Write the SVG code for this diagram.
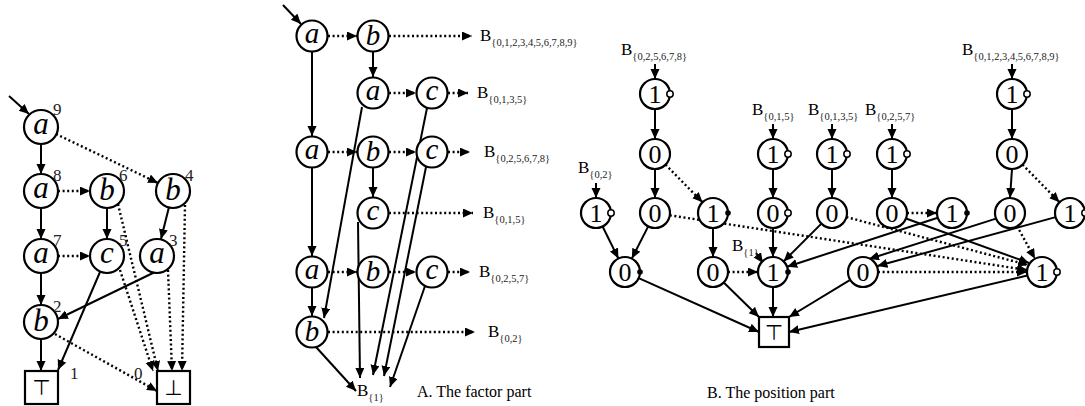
<svg xmlns="http://www.w3.org/2000/svg" width="1085" height="406" viewBox="0 0 1085 406">
<defs>
<marker id="ah" markerUnits="userSpaceOnUse" markerWidth="11" markerHeight="10" refX="10" refY="4.5" orient="auto"><path d="M0,0 L10,4.5 L0,9 z" fill="#000"/></marker>
<style>
.n{fill:#fff;stroke:#000;stroke-width:2.2}
.bx{fill:#fff;stroke:#000;stroke-width:2.2}
.s{stroke:#000;stroke-width:2;fill:none;marker-end:url(#ah)}
.d{stroke:#000;stroke-width:2.4;stroke-dasharray:2 2.6;fill:none;marker-end:url(#ah)}
.lt{font-family:"Liberation Serif",serif;font-style:italic;font-size:31px;text-anchor:middle;fill:#000}
.lm{font-family:"Liberation Serif",serif;font-style:italic;font-size:29px;text-anchor:middle;fill:#000}
.dg{font-family:"Liberation Serif",serif;font-size:26px;text-anchor:middle;fill:#000}
.sp{font-family:"Liberation Serif",serif;font-size:17px;fill:#222}
.lb{font-family:"Liberation Serif",serif;font-size:17px;fill:#000}
.sb{font-size:10.5px;fill:#222}
.cap{font-family:"Liberation Serif",serif;font-size:16px;fill:#000}
.sym{font-family:"DejaVu Sans",sans-serif;font-size:21px;text-anchor:middle;fill:#000}
.oc{fill:#fff;stroke:#000;stroke-width:1.5}
.fc{fill:#000}
</style>
</defs>

<!-- ===== Connectors ===== -->
<g id="connectors">
<!-- left diagram -->
<line class="s" x1="9" y1="96" x2="29" y2="114"/>
<line class="s" x1="41" y1="144" x2="41" y2="174"/>
<line class="d" x1="56" y1="134" x2="158" y2="183"/>
<line class="d" x1="58" y1="191" x2="90" y2="191"/>
<line class="s" x1="41" y1="208" x2="41" y2="239"/>
<line class="s" x1="107" y1="208" x2="107" y2="239"/>
<line class="d" x1="118" y1="204" x2="158" y2="371"/>
<line class="d" x1="120" y1="270" x2="153" y2="371"/>
<line class="s" x1="169" y1="207" x2="161" y2="239"/>
<line class="d" x1="185" y1="205" x2="182" y2="371"/>
<line class="d" x1="168" y1="270" x2="172" y2="371"/>
<line class="d" x1="58" y1="256" x2="90" y2="256"/>
<line class="s" x1="41" y1="273" x2="41" y2="305"/>
<line class="s" x1="100" y1="272" x2="58" y2="370"/>
<line class="s" x1="155" y1="272" x2="58" y2="319"/>
<line class="s" x1="41" y1="339" x2="41" y2="371"/>
<line class="d" x1="55" y1="334" x2="157" y2="391"/>

<!-- middle diagram -->
<line class="s" x1="283" y1="5" x2="301" y2="24"/>
<line class="d" x1="328" y1="36" x2="357" y2="36"/>
<line class="d" x1="389" y1="36" x2="472" y2="36"/>
<line class="s" x1="373" y1="52" x2="373" y2="77"/>
<line class="d" x1="389" y1="93" x2="416" y2="93"/>
<line class="d" x1="448" y1="93" x2="468" y2="93"/>
<line class="s" x1="312" y1="52" x2="312" y2="136"/>
<line class="d" x1="328" y1="152" x2="357" y2="152"/>
<line class="d" x1="389" y1="152" x2="416" y2="152"/>
<line class="d" x1="448" y1="152" x2="470" y2="152"/>
<line class="s" x1="373" y1="168" x2="373" y2="197"/>
<line class="d" x1="389" y1="213" x2="473" y2="213"/>
<line class="s" x1="312" y1="168" x2="312" y2="256"/>
<line class="d" x1="328" y1="272" x2="357" y2="272"/>
<line class="d" x1="389" y1="272" x2="416" y2="272"/>
<line class="d" x1="448" y1="272" x2="470" y2="272"/>
<line class="s" x1="312" y1="288" x2="312" y2="316"/>
<line class="d" x1="328" y1="332" x2="475" y2="332"/>
<line class="s" x1="362" y1="107" x2="324" y2="318"/>
<line class="s" x1="358" y1="222" x2="360" y2="378"/>
<line class="s" x1="427" y1="108" x2="373" y2="375"/>
<line class="s" x1="426" y1="167" x2="384" y2="376"/>
<line class="s" x1="425" y1="286" x2="390" y2="387"/>
<line class="s" x1="316" y1="347" x2="356" y2="391"/>

<!-- right diagram -->
<line class="s" x1="655" y1="64" x2="655" y2="79"/>
<line class="s" x1="773" y1="124" x2="773" y2="139"/>
<line class="s" x1="832" y1="124" x2="832" y2="139"/>
<line class="s" x1="892" y1="124" x2="892" y2="139"/>
<line class="s" x1="1012" y1="64" x2="1012" y2="79"/>
<line class="s" x1="596" y1="183" x2="596" y2="198"/>
<line class="s" x1="756" y1="253" x2="763" y2="263"/>

<line class="s" x1="655" y1="109" x2="655" y2="139"/>
<line class="s" x1="655" y1="169" x2="655" y2="198"/>
<line class="d" x1="665.5" y1="164.6" x2="702.5" y2="202.3"/>
<line class="s" x1="773" y1="169" x2="773" y2="198"/>
<line class="s" x1="832" y1="169" x2="832" y2="198"/>
<line class="s" x1="892" y1="169" x2="892" y2="198"/>
<line class="s" x1="1012" y1="109" x2="1012" y2="139"/>
<line class="s" x1="1012" y1="169" x2="1010" y2="198"/>
<line class="d" x1="1022.5" y1="164.6" x2="1059.5" y2="202.3"/>
<line class="d" x1="907" y1="213" x2="937" y2="213"/>

<line class="s" x1="602.6" y1="226.5" x2="618.4" y2="258.5"/>
<line class="s" x1="648.2" y1="226.4" x2="631.8" y2="258.6"/>
<line class="d" x1="669.8" y1="215.3" x2="1027" y2="270"/>
<line class="d" x1="846.4" y1="217.1" x2="1028" y2="265"/>
<line class="s" x1="906" y1="218.5" x2="1029" y2="263"/>
<line class="s" x1="713" y1="228" x2="713" y2="257"/>
<line class="s" x1="773" y1="228" x2="773" y2="257"/>
<line class="s" x1="821.4" y1="223.6" x2="783.6" y2="261.4"/>
<line class="s" x1="937.8" y1="217.7" x2="787.2" y2="266.7"/>
<line class="s" x1="996" y1="218.6" x2="869" y2="259"/>
<line class="s" x1="1055.6" y1="217.1" x2="877.4" y2="266"/>
<line class="d" x1="1017" y1="226" x2="1035" y2="258.8"/>
<line class="d" x1="878" y1="272" x2="1027" y2="272"/>
<line class="d" x1="728" y1="272" x2="758" y2="272"/>

<line class="s" x1="638.7" y1="278.1" x2="759" y2="332"/>
<line class="s" x1="723.7" y1="282.5" x2="759" y2="317"/>
<line class="s" x1="773" y1="287" x2="773" y2="317"/>
<line class="s" x1="850.2" y1="279.8" x2="789" y2="317"/>
<line class="s" x1="1027.4" y1="275.5" x2="789" y2="332"/>
</g>

<!-- ===== Left diagram nodes ===== -->
<g id="L-a9"><circle class="n" cx="41" cy="127" r="17"/><text class="lt" x="41" y="134">a</text><text class="sp" x="53" y="115">9</text></g>
<g id="L-a8"><circle class="n" cx="41" cy="191" r="17"/><text class="lt" x="41" y="198">a</text><text class="sp" x="53" y="181">8</text></g>
<g id="L-b6"><circle class="n" cx="107" cy="191" r="17"/><text class="lt" x="107" y="200">b</text><text class="sp" x="119" y="181">6</text></g>
<g id="L-b4"><circle class="n" cx="173" cy="191" r="17"/><text class="lt" x="173" y="200">b</text><text class="sp" x="185" y="181">4</text></g>
<g id="L-a7"><circle class="n" cx="41" cy="256" r="17"/><text class="lt" x="41" y="263">a</text><text class="sp" x="53" y="246">7</text></g>
<g id="L-c5"><circle class="n" cx="107" cy="256" r="17"/><text class="lt" x="107" y="263">c</text><text class="sp" x="119" y="246">5</text></g>
<g id="L-a3"><circle class="n" cx="157" cy="256" r="17"/><text class="lt" x="157" y="263">a</text><text class="sp" x="169" y="246">3</text></g>
<g id="L-b2"><circle class="n" cx="41" cy="322" r="17"/><text class="lt" x="41" y="331">b</text><text class="sp" x="53" y="312">2</text></g>
<g id="L-top"><rect class="bx" x="25" y="371" width="33" height="33"/><text class="sym" x="41.5" y="395">⊤</text><text class="sp" x="70" y="379">1</text></g>
<g id="L-bot"><rect class="bx" x="157" y="371" width="33" height="33"/><text class="sym" x="173.5" y="395">⊥</text><text class="sp" x="134" y="379">0</text></g>

<!-- ===== Middle diagram nodes ===== -->
<g id="M-a1"><circle class="n" cx="312" cy="36" r="15.5"/><text class="lm" x="312" y="43">a</text></g>
<g id="M-b1"><circle class="n" cx="373" cy="36" r="15.5"/><text class="lm" x="373" y="45">b</text></g>
<g id="M-a2"><circle class="n" cx="373" cy="93" r="15.5"/><text class="lm" x="373" y="100">a</text></g>
<g id="M-c2"><circle class="n" cx="432" cy="93" r="15.5"/><text class="lm" x="432" y="100">c</text></g>
<g id="M-a3"><circle class="n" cx="312" cy="152" r="15.5"/><text class="lm" x="312" y="159">a</text></g>
<g id="M-b3"><circle class="n" cx="373" cy="152" r="15.5"/><text class="lm" x="373" y="161">b</text></g>
<g id="M-c3"><circle class="n" cx="432" cy="152" r="15.5"/><text class="lm" x="432" y="159">c</text></g>
<g id="M-c4"><circle class="n" cx="373" cy="213" r="15.5"/><text class="lm" x="373" y="220">c</text></g>
<g id="M-a4"><circle class="n" cx="312" cy="272" r="15.5"/><text class="lm" x="312" y="279">a</text></g>
<g id="M-b4"><circle class="n" cx="373" cy="272" r="15.5"/><text class="lm" x="373" y="281">b</text></g>
<g id="M-c5"><circle class="n" cx="432" cy="272" r="15.5"/><text class="lm" x="432" y="279">c</text></g>
<g id="M-b5"><circle class="n" cx="312" cy="332" r="15.5"/><text class="lm" x="312" y="341">b</text></g>
<g id="M-labels">
<text class="lb" x="480" y="41">B<tspan class="sb" dy="5">{0,1,2,3,4,5,6,7,8,9}</tspan></text>
<text class="lb" x="477" y="98">B<tspan class="sb" dy="5">{0,1,3,5}</tspan></text>
<text class="lb" x="484" y="157">B<tspan class="sb" dy="5">{0,2,5,6,7,8}</tspan></text>
<text class="lb" x="483" y="218">B<tspan class="sb" dy="5">{0,1,5}</tspan></text>
<text class="lb" x="479" y="277">B<tspan class="sb" dy="5">{0,2,5,7}</tspan></text>
<text class="lb" x="488" y="337">B<tspan class="sb" dy="5">{0,2}</tspan></text>
<text class="lb" x="357" y="396">B<tspan class="sb" dy="5">{1}</tspan></text>
<text class="cap" x="417" y="397">A. The factor part</text>
</g>

<!-- ===== Right diagram nodes ===== -->
<g id="R-r1a"><circle class="n" cx="655" cy="94" r="15"/><text class="dg" x="655" y="103">1</text><circle class="oc" cx="670" cy="94" r="3.2"/></g>
<g id="R-r1b"><circle class="n" cx="1012" cy="94" r="15"/><text class="dg" x="1012" y="103">1</text><circle class="oc" cx="1027" cy="94" r="3.2"/></g>
<g id="R-r2a"><circle class="n" cx="655" cy="154" r="15"/><text class="dg" x="655" y="163">0</text></g>
<g id="R-r2b"><circle class="n" cx="773" cy="154" r="15"/><text class="dg" x="773" y="163">1</text><circle class="oc" cx="788" cy="154" r="3.2"/></g>
<g id="R-r2c"><circle class="n" cx="832" cy="154" r="15"/><text class="dg" x="832" y="163">1</text><circle class="oc" cx="847" cy="154" r="3.2"/></g>
<g id="R-r2d"><circle class="n" cx="892" cy="154" r="15"/><text class="dg" x="892" y="163">1</text><circle class="oc" cx="907" cy="154" r="3.2"/></g>
<g id="R-r2e"><circle class="n" cx="1012" cy="154" r="15"/><text class="dg" x="1012" y="163">0</text></g>
<g id="R-r3a"><circle class="n" cx="596" cy="213" r="15"/><text class="dg" x="596" y="222">1</text><circle class="oc" cx="611" cy="213" r="3.2"/></g>
<g id="R-r3b"><circle class="n" cx="655" cy="213" r="15"/><text class="dg" x="655" y="222">0</text></g>
<g id="R-r3c"><circle class="n" cx="713" cy="213" r="15"/><text class="dg" x="713" y="222">1</text><circle class="fc" cx="728" cy="213" r="2.8"/></g>
<g id="R-r3d"><circle class="n" cx="773" cy="213" r="15"/><text class="dg" x="773" y="222">0</text><circle class="oc" cx="788" cy="213" r="3.2"/></g>
<g id="R-r3e"><circle class="n" cx="832" cy="213" r="15"/><text class="dg" x="832" y="222">0</text></g>
<g id="R-r3f"><circle class="n" cx="892" cy="213" r="15"/><text class="dg" x="892" y="222">0</text></g>
<g id="R-r3g"><circle class="n" cx="952" cy="213" r="15"/><text class="dg" x="952" y="222">1</text><circle class="fc" cx="967" cy="213" r="2.8"/></g>
<g id="R-r3h"><circle class="n" cx="1010" cy="213" r="15"/><text class="dg" x="1010" y="222">0</text></g>
<g id="R-r3i"><circle class="n" cx="1070" cy="213" r="15"/><text class="dg" x="1070" y="222">1</text><circle class="oc" cx="1085" cy="213" r="3.2"/></g>
<g id="R-r4a"><circle class="n" cx="625" cy="272" r="15"/><text class="dg" x="625" y="281">0</text><circle class="fc" cx="640" cy="272" r="2.8"/></g>
<g id="R-r4b"><circle class="n" cx="713" cy="272" r="15"/><text class="dg" x="713" y="281">0</text></g>
<g id="R-r4c"><circle class="n" cx="773" cy="272" r="15"/><text class="dg" x="773" y="281">1</text><circle class="fc" cx="788" cy="272" r="2.8"/></g>
<g id="R-r4d"><circle class="n" cx="863" cy="272" r="15"/><text class="dg" x="863" y="281">0</text></g>
<g id="R-r4e"><circle class="n" cx="1042" cy="272" r="15"/><text class="dg" x="1042" y="281">1</text><circle class="oc" cx="1057" cy="272" r="3.2"/></g>
<g id="R-top"><rect class="bx" x="759" y="317" width="30" height="30"/><text class="sym" x="774" y="340">⊤</text></g>
<g id="R-labels">
<text class="lb" x="621" y="55">B<tspan class="sb" dy="5">{0,2,5,6,7,8}</tspan></text>
<text class="lb" x="752" y="115">B<tspan class="sb" dy="5">{0,1,5}</tspan></text>
<text class="lb" x="808" y="115">B<tspan class="sb" dy="5">{0,1,3,5}</tspan></text>
<text class="lb" x="865" y="115">B<tspan class="sb" dy="5">{0,2,5,7}</tspan></text>
<text class="lb" x="962" y="55">B<tspan class="sb" dy="5">{0,1,2,3,4,5,6,7,8,9}</tspan></text>
<text class="lb" x="578" y="173">B<tspan class="sb" dy="5">{0,2}</tspan></text>
<text class="lb" x="732" y="251">B<tspan class="sb" dy="5">{1}</tspan></text>
<text class="cap" x="707" y="398">B. The position part</text>
</g>
</svg>
